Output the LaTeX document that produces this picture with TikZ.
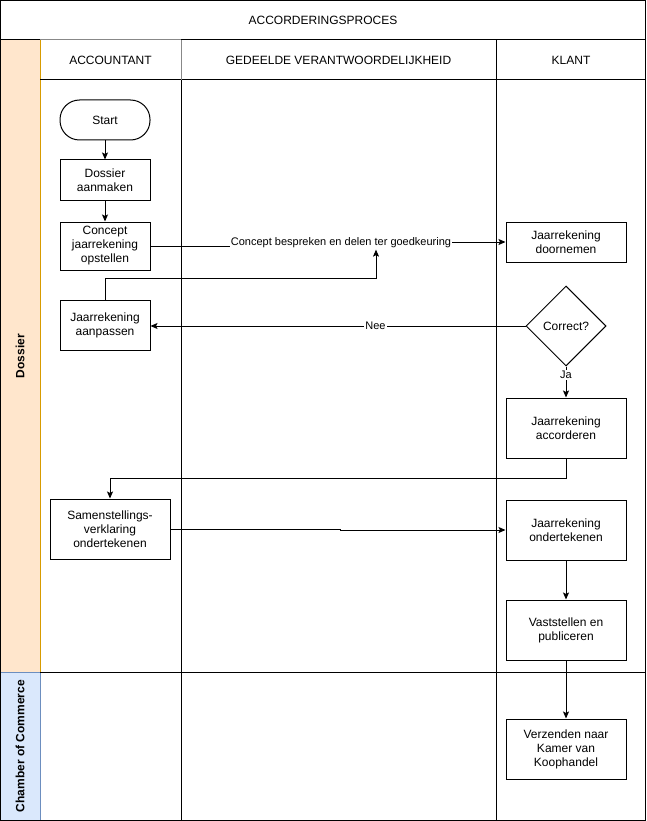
\documentclass[tikz,border=0pt]{standalone}
\usepackage{fontspec}
\setmainfont{Liberation Sans}
\usetikzlibrary{arrows.meta,shapes.geometric,calc}
\definecolor{dossierfill}{HTML}{FFE6CC}
\definecolor{dossierline}{HTML}{D79B00}
\definecolor{ccfill}{HTML}{DAE8FC}
\definecolor{ccline}{HTML}{6C8EBF}
\definecolor{hdrgray}{HTML}{888888}
\begin{document}
\begin{tikzpicture}[x=1pt,y=-1pt,line width=1pt,
  box/.style={draw,rectangle,inner sep=0pt,align=center,font=\fontsize{12}{14}\selectfont},
  lbl/.style={font=\fontsize{11}{13}\selectfont,fill=white,inner sep=1pt},
  arr/.style={-{Stealth[length=7pt,width=6pt,inset=1.5pt]}},
  lanelbl/.style={font=\bfseries\fontsize{12}{14}\selectfont,rotate=90},
  hdr/.style={font=\fontsize{12}{14}\selectfont}]
\useasboundingbox (0,0) rectangle (646,821);
% lane bands
\fill[dossierfill] (0,40) rectangle (40,672);
\fill[ccfill] (0,672) rectangle (40,820);
\draw[dossierline] (40,40) -- (40,672);
\draw[ccline] (0,672) -- (40,672) -- (40,820);
% frame and grid
\draw (0.5,0.5) rectangle (645.5,820.5);
\draw (0,40) -- (40,40);
\draw[hdrgray] (40,40) -- (181,40);
\draw (181,40) -- (646,40);
\draw (40,80) -- (646,80);
\draw (40,672) -- (646,672);
\draw[hdrgray] (181,40) -- (181,80);
\draw (181,80) -- (181,820);
\draw (496,40) -- (496,820);
% headers
\node[hdr] (title) at (323,20) {ACCORDERINGSPROCES};
\node[hdr] (h1) at (110.5,60) {ACCOUNTANT};
\node[hdr] (h2) at (338.5,60) {GEDEELDE VERANTWOORDELIJKHEID};
\node[hdr] (h3) at (571,60) {KLANT};
\node[lanelbl] (l1) at (20,356) {Dossier};
\node[lanelbl] (l2) at (20,746) {Chamber of Commerce};
% nodes
\node[box,rounded corners=19.5pt,minimum width=90pt,minimum height=40pt] (start) at (105,120) {Start};
\node[box,minimum width=90pt,minimum height=40pt] (dossier) at (105,180) {Dossier\\aanmaken};
\node[box,minimum width=90pt,minimum height=48pt] (concept) at (105,246) {Concept\\jaarrekening\\opstellen};
\node[box,minimum width=90pt,minimum height=50pt] (aanpassen) at (105,325) {Jaarrekening\\aanpassen};
\node[box,minimum width=120pt,minimum height=40pt] (doornemen) at (566,242) {Jaarrekening\\doornemen};
\node[box,diamond,aspect=1,minimum width=80pt,minimum height=80pt] (correct) at (566,326) {Correct?};
\node[box,minimum width=120pt,minimum height=60pt] (accorderen) at (566,428) {Jaarrekening\\accorderen};
\node[box,minimum width=120pt,minimum height=60pt] (samen) at (110,529) {Samenstellings-\\verklaring\\ondertekenen};
\node[box,minimum width=120pt,minimum height=60pt] (onderteken) at (566,530) {Jaarrekening\\ondertekenen};
\node[box,minimum width=120pt,minimum height=60pt] (vaststellen) at (566,630) {Vaststellen en\\publiceren};
\node[box,minimum width=120pt,minimum height=60pt] (verzenden) at (566,749) {Verzenden naar\\Kamer van\\Koophandel};
% connectors
\draw[arr] (start) -- (dossier);
\draw[arr] (dossier) -- (concept);
\coordinate (cmid) at (341,246);
\draw[arr] (concept.east) -- (cmid) |- (doornemen.west);
\node[lbl] (clbl) at (341,243) {Concept bespreken en delen ter goedkeuring};
\coordinate (aup) at (376,278);
\draw[arr] (aanpassen.north) |- (aup) -- (clbl.south -| aup);
\draw[arr] (correct.west) -- node[lbl,pos=0.4] {Nee} (correct.west -| aanpassen.east);
\draw[arr] (correct.south) -- node[lbl,pos=0.28] {Ja} (accorderen.north);
\coordinate (acc) at (566,478);
\draw[arr] (accorderen.south) -- (acc) -| (samen.north);
\coordinate (smid) at (340,529);
\draw[arr] (samen.east) -- (smid) |- (onderteken.west);
\draw[arr] (onderteken) -- (vaststellen);
\draw[arr] (vaststellen) -- (verzenden);
\end{tikzpicture}
\end{document}
